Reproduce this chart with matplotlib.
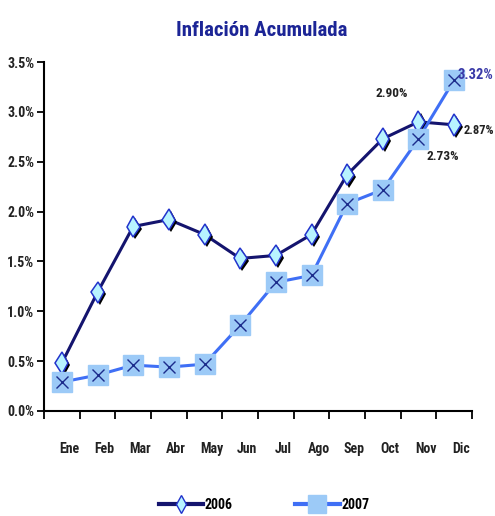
import matplotlib.pyplot as plt
import matplotlib.patheffects as pe
from matplotlib import font_manager as fm
from matplotlib.lines import Line2D

months = ['Ene', 'Feb', 'Mar', 'Abr', 'May', 'Jun', 'Jul', 'Ago', 'Sep', 'Oct', 'Nov', 'Dic']
infl_2006 = [0.48, 1.19, 1.85, 1.92, 1.77, 1.53, 1.56, 1.77, 2.37, 2.73, 2.90, 2.87]
infl_2007 = [0.29, 0.36, 0.46, 0.44, 0.47, 0.86, 1.29, 1.36, 2.08, 2.22, 2.73, 3.32]
y_ticks = [0.0, 0.5, 1.0, 1.5, 2.0, 2.5, 3.0, 3.5]

# narrow font if there is one
names = {f.name for f in fm.fontManager.ttflist}
narrow = [n for n in ['Liberation Sans Narrow', 'Roboto Condensed', 'Open Sans Condensed',
                      'Noto Sans Condensed', 'DejaVu Sans Condensed'] if n in names]
if narrow:
    plt.rcParams['font.family'] = [narrow[0], 'DejaVu Sans']
else:
    plt.rcParams['font.family'] = ['DejaVu Sans']
    plt.rcParams['font.stretch'] = 'condensed'

navy = '#14146e'
blue = '#3f6ff5'
fill_sq = '#9ccaf7'
fill_d = '#b8f4ff'
txt = '#222222'

fig = plt.figure(figsize=(4.95, 5.16), dpi=100)
ax = fig.add_axes([44 / 495, 1 - 411 / 516, 428 / 495, 349 / 516])
x = list(range(len(months)))

# 2006
ax.plot(x, infl_2006, color=navy, lw=2.2, zorder=3)
ax.plot(x, infl_2006, ls='none', marker='d', ms=11, mfc=fill_d, mec='#2233cc', mew=1.1, zorder=4,
        path_effects=[pe.SimplePatchShadow(offset=(1.5, -1.5), shadow_rgbFace='black', alpha=1), pe.Normal()])

# 2007
ax.plot(x, infl_2007, color=blue, lw=2.2, zorder=5)
ax.plot(x, infl_2007, ls='none', marker='s', ms=14, mfc=fill_sq, mec=fill_sq, zorder=6)
ax.plot(x, infl_2007, ls='none', marker='x', ms=9, mec='#1c2c8c', mew=1.0, zorder=7)

ax.set_xlim(-0.5, 11.5)
ax.set_ylim(0, 3.5)
ax.set_yticks(y_ticks)
ax.set_yticklabels([f'{v:.1f}%' for v in y_ticks], fontsize=10, fontweight='bold', color=txt)
ax.set_xticks([i - 0.5 for i in range(13)])
ax.set_xticklabels([])
ax.set_xticks([i + 0.2 for i in x], minor=True)
ax.set_xticklabels(months, minor=True, fontsize=10, fontweight='bold', color=txt)
ax.tick_params(axis='x', which='major', direction='out', length=6, width=1.3)
ax.tick_params(axis='x', which='minor', length=0, pad=22)
ax.tick_params(axis='y', direction='out', length=5, width=1.3, pad=2)
for s in ['top', 'right']:
    ax.spines[s].set_visible(False)
for s in ['left', 'bottom']:
    ax.spines[s].set_linewidth(1.5)

ax.annotate('2.90%', (10, 2.90), xytext=(-19, 18), textcoords='offset points', ha='center',
            fontsize=9.5, fontweight='bold', color=txt)
ax.annotate('2.73%', (10, 2.73), xytext=(6, -15), textcoords='offset points', ha='left',
            fontsize=9.5, fontweight='bold', color=txt)
# end labels kept inside the right edge
fig.text(464 / 495, 1 - 130 / 516, '2.87%', ha='left', va='center',
         fontsize=9, fontweight='bold', color=txt)
fig.text(493 / 495, 1 - 75 / 516, '3.32%', ha='right', va='center',
         fontsize=10.5, fontweight='bold', color='#3a3aa8')

fig.text(262 / 495, 1 - 30 / 516, 'Inflación Acumulada', ha='center', va='center',
         fontsize=15, fontweight='bold', color='#1c2596')

h1 = Line2D([], [], color=navy, lw=3, marker='d', ms=9, mfc=fill_d, mec='#2233cc')
h2 = Line2D([], [], color=blue, lw=3, marker='s', ms=13, mfc=fill_sq, mec=fill_sq)
fig.legend([h1, h2], ['2006', '2007'], loc='center', bbox_to_anchor=(264 / 495, 1 - 505 / 516),
           ncol=2, frameon=False, prop={'weight': 'bold', 'size': 10},
           handlelength=3.2, handletextpad=0.1, columnspacing=4.5)

fig.savefig('out.png', dpi=100)
